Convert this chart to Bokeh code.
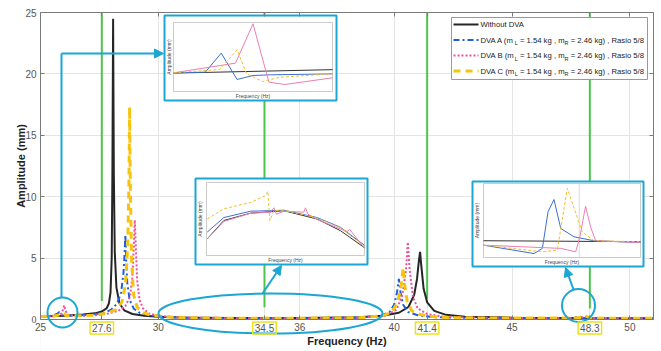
from bokeh.plotting import figure
from bokeh.models import Range1d, FixedTicker, Label, Arrow, NormalHead, AllLabels, LinearAxis
from bokeh.embed import file_html
from bokeh.resources import INLINE

# ---------------- data ----------------
x_ticks = [25, 27.6, 30, 34.5, 36, 40, 41.4, 45, 48.3, 50]
marked_ticks = [27.6, 34.5, 41.4, 48.3]
y_ticks = [0, 5, 10, 15, 20, 25]
green_bottom = [1.5, 1.0, 1.7, 0.9]

f_none = [25, 26, 26.8, 27.3, 27.6, 27.8, 27.9, 27.97, 28.02, 28.05, 28.08, 28.11, 28.15, 28.22,
          28.35, 28.55, 28.9, 29.4, 30, 31, 33, 36, 38.5, 39.5, 40.2, 40.6, 40.85, 40.97, 41.05,
          41.1, 41.15, 41.25, 41.4, 41.7, 42.2, 43, 45, 48, 51]
a_none = [0.25, 0.3, 0.4, 0.5, 0.65, 0.9, 1.3, 2.2, 5.0, 12.0, 24.5, 12.0, 5.5, 2.6,
          1.3, 0.75, 0.45, 0.3, 0.22, 0.16, 0.12, 0.12, 0.18, 0.3, 0.55, 1.0, 2.0, 3.3, 4.8,
          5.5, 4.4, 2.5, 1.4, 0.7, 0.38, 0.22, 0.15, 0.12, 0.1]

f_a = [25, 25.5, 25.7, 25.8, 25.9, 26.1, 26.6, 27.2, 27.7, 28.0, 28.25, 28.42, 28.52, 28.57, 28.6,
       28.63, 28.68, 28.78, 28.95, 29.2, 29.6, 30.2, 31, 33, 36, 38.5, 39.4, 39.8, 40.0, 40.12,
       40.2, 40.27, 40.38, 40.6, 41.0, 41.6, 42.5, 44, 46, 47.6, 47.85, 47.95, 48.1, 49, 51]
a_a = [0.25, 0.3, 0.45, 0.6, 0.35, 0.3, 0.32, 0.4, 0.55, 0.8, 1.3, 2.2, 3.8, 5.5, 6.9,
       5.0, 3.0, 1.6, 0.9, 0.55, 0.35, 0.22, 0.15, 0.1, 0.1, 0.15, 0.3, 0.6, 1.2, 2.2,
       3.3, 2.2, 1.2, 0.6, 0.35, 0.2, 0.15, 0.12, 0.12, 0.13, 0.25, 0.15, 0.12, 0.1, 0.1]

f_b = [25, 25.7, 25.9, 25.97, 26.0, 26.05, 26.15, 26.6, 27.2, 27.8, 28.3, 28.6, 28.8, 28.9, 28.96,
       29.0, 29.04, 29.1, 29.2, 29.35, 29.6, 30, 30.6, 31.5, 33, 36, 38.5, 39.6, 40.1, 40.35,
       40.5, 40.58, 40.66, 40.8, 41.0, 41.4, 42, 43, 45, 47.8, 48.2, 48.3, 48.6, 50, 51]
a_b = [0.25, 0.3, 0.5, 0.9, 1.15, 0.8, 0.35, 0.3, 0.33, 0.45, 0.7, 1.1, 1.9, 3.5, 6.0,
       8.1, 6.0, 3.2, 1.6, 0.9, 0.5, 0.3, 0.2, 0.14, 0.1, 0.1, 0.14, 0.3, 0.8, 2.0,
       4.0, 6.3, 4.0, 1.8, 0.9, 0.45, 0.25, 0.17, 0.13, 0.12, 0.25, 0.14, 0.12, 0.1, 0.1]

f_c = [25, 25.6, 25.85, 25.95, 26.1, 26.6, 27.2, 27.8, 28.2, 28.45, 28.6, 28.7, 28.75, 28.78,
       28.81, 28.86, 28.95, 29.1, 29.35, 29.7, 30.3, 31, 33, 36, 38.5, 39.5, 39.9, 40.15, 40.3,
       40.38, 40.45, 40.55, 40.75, 41.1, 41.7, 42.5, 44, 46, 47.7, 48.0, 48.1, 48.3, 49, 51]
a_c = [0.25, 0.28, 0.4, 0.55, 0.3, 0.3, 0.35, 0.5, 0.8, 1.4, 2.8, 6.0, 11.0, 17.3,
       11.0, 5.0, 2.0, 1.0, 0.55, 0.35, 0.22, 0.15, 0.1, 0.1, 0.15, 0.3, 0.6, 1.4, 2.8,
       4.2, 2.8, 1.5, 0.7, 0.4, 0.22, 0.15, 0.12, 0.12, 0.13, 0.2, 0.3, 0.13, 0.1, 0.1]

# inset 1 (around 26 Hz)
i1_f_none = [25.5, 26.0, 26.5]
i1_a_none = [0.32, 0.35, 0.38]
i1_f_a = [25.5, 25.7, 25.8, 25.9, 26.0, 26.11, 26.5]
i1_a_a = [0.325, 0.336, 0.667, 0.209, 0.278, 0.29, 0.307]
i1_f_b = [25.5, 25.89, 26.0, 26.1, 26.2, 26.5]
i1_a_b = [0.325, 0.493, 1.177, 0.162, 0.122, 0.238]
i1_f_c = [25.5, 25.79, 25.9, 25.96, 26.06, 26.17, 26.5]
i1_a_c = [0.325, 0.383, 0.725, 0.307, 0.174, 0.249, 0.307]

# inset 2 (30 - 39 Hz)
i2_f_none = [30.04, 30.99, 32.51, 34.41, 36.30, 37.63, 39.0]
i2_a_none = [0.084, 0.122, 0.137, 0.142, 0.125, 0.101, 0.066]
i2_f_a = [30.04, 30.99, 32.51, 34.41, 36.30, 37.63, 39.0]
i2_a_a = [0.098, 0.128, 0.141, 0.143, 0.128, 0.108, 0.071]
i2_f_b = [30.04, 30.99, 32.51, 33.65, 33.84, 33.99, 34.41, 35.54, 35.64, 35.77, 36.30, 38.01,
          38.16, 38.32, 39.0]
i2_a_b = [0.084, 0.120, 0.137, 0.139, 0.148, 0.135, 0.141, 0.139, 0.148, 0.135, 0.124, 0.099,
          0.104, 0.096, 0.065]
i2_f_c = [30.04, 30.99, 32.51, 33.36, 33.49, 33.61, 33.84, 34.41, 36.30, 37.63, 39.0]
i2_a_c = [0.125, 0.146, 0.159, 0.173, 0.182, 0.122, 0.142, 0.143, 0.127, 0.107, 0.068]

# inset 3 (around 48 Hz)
i3_f_none = [47.5, 48.5]
i3_a_none = [0.118, 0.114]
i3_f_a = [47.5, 47.822, 47.875, 47.911, 47.949, 47.992, 48.076, 48.203, 48.5]
i3_a_a = [0.1, 0.066, 0.087, 0.235, 0.285, 0.168, 0.134, 0.118, 0.111]
i3_f_b = [47.5, 47.992, 48.087, 48.114, 48.150, 48.182, 48.214, 48.5]
i3_a_b = [0.1, 0.087, 0.073, 0.134, 0.258, 0.174, 0.118, 0.111]
i3_f_c = [47.5, 47.875, 47.970, 48.034, 48.129, 48.203, 48.5]
i3_a_c = [0.1, 0.073, 0.080, 0.330, 0.154, 0.118, 0.114]
i3_marker = [48.11]

# ---------------- layout (the frame fills the whole canvas) ----------------
W, H = 661, 351
PL, PR, PT, PB = 40, 653, 12, 319     # pixel box of the plotting area
X0, X1, Y1 = 25, 51, 25
PXHZ = (PR - PL) / (X1 - X0)
PXMM = (PB - PT) / Y1


def X(px):
    return X0 + (px - PL) / PXHZ


def Y(py):
    return Y1 - (py - PT) / PXMM


FONT = "Liberation Sans"
CYAN = "#1ba6d3"
GREEN = "#4cc54c"
AXC = "#7a7a7a"
TICKC = "#555555"
C_NONE, C_A, C_B, C_C = "#262626", "#1b5fe0", "#f0509c", "#f6c40f"

p = figure(width=W, height=H, x_range=Range1d(X(0), X(W)), y_range=Range1d(Y(H), Y(0)),
           output_backend="svg", toolbar_location=None,
           min_border_left=0, min_border_right=0, min_border_top=0, min_border_bottom=0)
p.background_fill_color = "white"
p.border_fill_color = "white"
p.outline_line_color = None

p.xaxis.ticker = FixedTicker(ticks=x_ticks)
p.yaxis.ticker = FixedTicker(ticks=y_ticks[1:])
p.xaxis.fixed_location = 0
p.yaxis.fixed_location = X0
p.xaxis.bounds = (X0, X1)
p.yaxis.bounds = (0, Y1)
p.xaxis.major_label_overrides = {t: "" for t in marked_ticks}
p.xaxis.axis_label = "Frequency (Hz)"
p.yaxis.axis_label = "Amplitude (mm)"
for ax in (p.xaxis, p.yaxis):
    ax.major_label_policy = AllLabels()
    ax.axis_label_text_font = FONT
    ax.axis_label_text_font_style = "bold"
    ax.axis_label_text_font_size = "11px"
    ax.axis_label_text_color = "#222222"
    ax.major_label_text_font = FONT
    ax.major_label_text_font_size = "10px"
    ax.major_label_text_color = TICKC
    ax.major_tick_in = 4
    ax.major_tick_out = 0
    ax.minor_tick_line_color = None
    ax.axis_line_color = AXC
    ax.major_tick_line_color = AXC
p.xaxis.major_label_standoff = 3
p.xaxis.axis_label_standoff = 1
p.yaxis.major_label_standoff = 4
p.yaxis.axis_label_standoff = -5
p.grid.grid_line_color = "#e4e4e4"

# box: top and right axes carry tick marks only
top_axis = LinearAxis(fixed_location=Y1, bounds=(X0, X1), ticker=FixedTicker(ticks=x_ticks),
                      major_label_overrides={t: "" for t in x_ticks})
right_axis = LinearAxis(fixed_location=X1, bounds=(0, Y1), ticker=FixedTicker(ticks=y_ticks),
                        major_label_overrides={t: "" for t in y_ticks})
for ax in (top_axis, right_axis):
    ax.major_tick_in = 4
    ax.major_tick_out = 0
    ax.minor_tick_line_color = None
    ax.axis_line_color = AXC
    ax.major_tick_line_color = AXC
    ax.major_label_text_font_size = "1px"
p.add_layout(top_axis, "above")
p.add_layout(right_axis, "right")

# white margins hide the grid outside the plotting area
p.quad(left=[X(0), X(0), X1, X0], right=[X0, X(W), X(W), X1],
       top=[Y(0), Y(0), Y(0), 0], bottom=[Y(H), Y1, Y(H), Y(H)],
       fill_color="white", line_color=None)

# green markers
p.segment(x0=marked_ticks, y0=green_bottom, x1=marked_ticks, y1=[Y1] * 4,
          line_color=GREEN, line_width=2)

# main curves
p.line(f_none, a_none, line_color=C_NONE, line_width=2)
p.line(f_a, a_a, line_color=C_A, line_width=2, line_dash="6 3 2 3")
p.line(f_b, a_b, line_color=C_B, line_width=2, line_dash="2 2")
p.line(f_c, a_c, line_color=C_C, line_width=3, line_dash="7 5")

# y tick label 0 (drawn as text glyph) and yellow-boxed x tick labels
p.text(x=[X(PL - 4)], y=[y_ticks[0]], text=[f"{y_ticks[0]}"], text_align="right",
       text_baseline="middle", text_font=FONT, text_font_size="10px", text_color=TICKC)
for t in marked_ticks:
    p.add_layout(Label(x=t, y=Y(PB + 8.5), text=f"{t}", text_align="center",
                       text_baseline="middle", text_font=FONT, text_font_size="10px",
                       text_color=TICKC, border_line_color="#ede21a",
                       border_line_width=1.5, padding=2))

# cyan callouts
p.ellipse(x=[X(62), X(270), X(578)], y=[Y(312), Y(313), Y(305)],
          width=[30 / PXHZ, 224 / PXHZ, 33 / PXHZ],
          height=[30 / PXMM, 40 / PXMM, 33 / PXMM],
          fill_color=None, line_color=CYAN, line_width=2)
p.add_layout(Arrow(x_start=X(61), y_start=Y(297), x_end=X(61), y_end=Y(53), end=None,
                   line_color=CYAN, line_width=2))
p.add_layout(Arrow(x_start=X(61), y_start=Y(53), x_end=X(163), y_end=Y(53),
                   end=NormalHead(size=9, fill_color=CYAN, line_color=CYAN),
                   line_color=CYAN, line_width=2))
p.add_layout(Arrow(x_start=X(262), y_start=Y(293), x_end=X(281), y_end=Y(265),
                   end=NormalHead(size=9, fill_color=CYAN, line_color=CYAN),
                   line_color=CYAN, line_width=2))
p.add_layout(Arrow(x_start=X(573), y_start=Y(289), x_end=X(565), y_end=Y(267),
                   end=NormalHead(size=9, fill_color=CYAN, line_color=CYAN),
                   line_color=CYAN, line_width=2))

# insets: (outer box px), (inner axes px), x range, y range, series
insets = [
    ((164, 336, 15, 100), (173, 332, 22, 91), (25.5, 26.5), (0.0, 1.2),
     (i1_f_none, i1_a_none, i1_f_a, i1_a_a, i1_f_b, i1_a_b, i1_f_c, i1_a_c), None),
    ((195, 367, 178, 264), (206, 364, 182, 255), (30.0, 39.0), (0.05, 0.2),
     (i2_f_none, i2_a_none, i2_f_a, i2_a_a, i2_f_b, i2_a_b, i2_f_c, i2_a_c), None),
    ((472, 643, 181, 266), (483, 640, 183, 257), (47.5, 48.5), (0.05, 0.35),
     (i3_f_none, i3_a_none, i3_f_a, i3_a_a, i3_f_b, i3_a_b, i3_f_c, i3_a_c), i3_marker),
]
for (ol, orr, ot, ob), (il, ir, it, ib), xr, yr, s, marker in insets:
    p.quad(left=[X(ol)], right=[X(orr)], top=[Y(ot)], bottom=[Y(ob)],
           fill_color="white", line_color=CYAN, line_width=2)
    p.quad(left=[X(il)], right=[X(ir)], top=[Y(it)], bottom=[Y(ib)],
           fill_color=None, line_color="#b5b5b5", line_width=0.7)
    sub = p.subplot(x_source=Range1d(*xr), y_source=Range1d(*yr),
                    x_target=Range1d(X(il), X(ir)), y_target=Range1d(Y(ib), Y(it)))
    if marker:
        sub.segment(x0=marker, y0=[yr[0]], x1=marker, y1=[yr[1]], line_color="#c8c8c8", line_width=0.7)
    sub.line(s[0], s[1], line_color="#333333", line_width=1)
    sub.line(s[2], s[3], line_color="#3b6fd0", line_width=1)
    sub.line(s[4], s[5], line_color="#ec7fb0", line_width=1)
    sub.line(s[6], s[7], line_color="#f2bf2a", line_width=1, line_dash="3 2")
    p.add_layout(Label(x=X((il + ir) / 2), y=Y(ib + 4), text="Frequency (Hz)", text_align="center",
                       text_baseline="middle", text_font=FONT, text_font_size="5px",
                       text_color="#444444"))
    p.add_layout(Label(x=X(ol + 4), y=Y((it + ib) / 2), text="Amplitude (mm)", text_align="center",
                       text_baseline="middle", angle=90, angle_units="deg", text_font=FONT,
                       text_font_size="5px", text_color="#444444"))

# legend
p.quad(left=[X(451)], right=[X(647)], top=[Y(17)], bottom=[Y(79)],
       fill_color="white", line_color="#9a9a9a", line_width=1)
rows = [24, 39.5, 55, 70.5]
styles = [(C_NONE, 2, "solid"), (C_A, 2, "6 3 2 3"), (C_B, 2, "2 2"), (C_C, 3, "7 5")]
names = ["DVA A", "DVA B", "DVA C"]
for r, (c, w, d) in zip(rows, styles):
    p.line([X(453), X(478)], [Y(r), Y(r)], line_color=c, line_width=w, line_dash=d)
LF = "7.7px"
SF = "5.5px"


def leg(px, py, text, size=LF):
    p.add_layout(Label(x=X(px), y=Y(py), text=text, text_align="left", text_baseline="middle",
                       text_font=FONT, text_font_size=size, text_color="#222222"))


leg(480, rows[0], "Without DVA")
for r, n in zip(rows[1:], names):
    leg(480, r, f"{n} (m")
    leg(514.2, r + 3, "L", SF)
    leg(519.4, r, "= 1.54 kg , m")
    leg(564.1, r + 3, "R", SF)
    leg(570.2, r, "= 2.46 kg) , Rasio 5/8")

open("out.html", "w").write(file_html(p, INLINE))
